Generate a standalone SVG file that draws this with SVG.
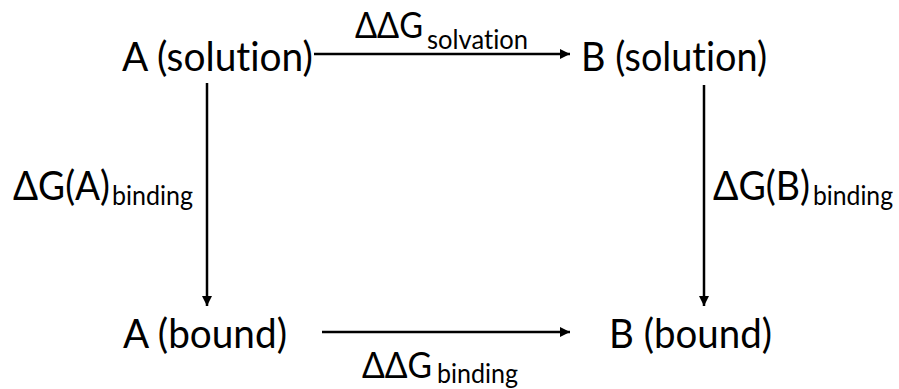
<svg xmlns="http://www.w3.org/2000/svg" width="899" height="389" viewBox="0 0 899 389">
<style>
text { font-family: Lato, "Open Sans", "Liberation Sans", sans-serif; fill: #000; font-variant-ligatures: none; font-feature-settings: "liga" 0, "clig" 0; }
.main { font-size: 40px; }
.sym { font-size: 37px; }
.sub { font-size: 27px; }
.conn { stroke: #000; stroke-width: 2.5; fill: none; }
</style>
<defs>
<marker id="ah" viewBox="0 0 10 10" refX="10" refY="5" markerWidth="4" markerHeight="4" orient="auto" markerUnits="strokeWidth">
<path d="M0,0 L10,5 L0,10 z" fill="#000"/>
</marker>
</defs>
<rect width="899" height="389" fill="#fff"/>
<g id="connectors">
<line class="conn" x1="314" y1="54" x2="570" y2="54" marker-end="url(#ah)"/>
<line class="conn" x1="322" y1="332" x2="570" y2="332" marker-end="url(#ah)"/>
<line class="conn" x1="207" y1="83" x2="207" y2="306" marker-end="url(#ah)"/>
<line class="conn" x1="704" y1="85" x2="704" y2="306" marker-end="url(#ah)"/>
</g>
<g id="A-solution"><text class="main" x="122" y="71" textLength="191" lengthAdjust="spacingAndGlyphs">A (solution)</text></g>
<g id="B-solution"><text class="main" x="581" y="71" textLength="186" lengthAdjust="spacingAndGlyphs">B (solution)</text></g>
<g id="A-bound"><text class="main" x="123" y="348" textLength="164" lengthAdjust="spacingAndGlyphs">A (bound)</text></g>
<g id="B-bound"><text class="main" x="609" y="348" textLength="163" lengthAdjust="spacingAndGlyphs">B (bound)</text></g>
<g id="label-solvation">
<text class="sym" x="355" y="38" textLength="68" lengthAdjust="spacingAndGlyphs">ΔΔG</text>
<text class="sub" x="427" y="49" textLength="101" lengthAdjust="spacingAndGlyphs">solvation</text>
</g>
<g id="label-binding">
<text class="sym" x="362" y="378" textLength="70" lengthAdjust="spacingAndGlyphs">ΔΔG</text>
<text class="sub" x="437" y="383" textLength="81" lengthAdjust="spacingAndGlyphs">binding</text>
</g>
<g id="label-A-binding">
<text class="main" x="13" y="200" textLength="97" lengthAdjust="spacingAndGlyphs">ΔG(A)</text>
<text class="sub" x="112" y="205" textLength="81" lengthAdjust="spacingAndGlyphs">binding</text>
</g>
<g id="label-B-binding">
<text class="main" x="713" y="200" textLength="97" lengthAdjust="spacingAndGlyphs">ΔG(B)</text>
<text class="sub" x="813" y="205" textLength="80" lengthAdjust="spacingAndGlyphs">binding</text>
</g>
</svg>
